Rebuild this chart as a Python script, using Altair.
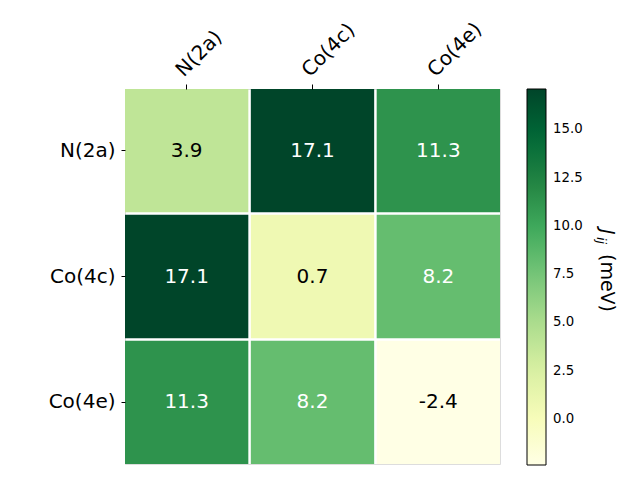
import altair as alt
import pandas as pd

rows = ["N(2a)", "Co(4c)", "Co(4e)"]
cols = ["N(2a)", "Co(4c)", "Co(4e)"]
values = [
    [3.9, 17.1, 11.3],
    [17.1, 0.7, 8.2],
    [11.3, 8.2, -2.4],
]
legend_ticks = [0.0, 2.5, 5.0, 7.5, 10.0, 12.5, 15.0]
ylgn = ["#ffffe5", "#f7fcb9", "#d9f0a3", "#addd8e", "#78c679",
        "#41ab5d", "#238443", "#006837", "#004529"]

records = []
for i, r in enumerate(rows):
    for j, c in enumerate(cols):
        records.append({"row": r, "col": c, "value": values[i][j],
                        "label": f"{values[i][j]:.1f}"})
df = pd.DataFrame(records)
vmin = min(min(v) for v in values)
vmax = max(max(v) for v in values)
n = len(ylgn)
color_domain = [vmin + (vmax - vmin) * k / (n - 1) for k in range(n)]

FONT = "DejaVu Sans"

x_enc = alt.X(
    "col:N", sort=cols, title=None,
    scale=alt.Scale(paddingInner=0.02, paddingOuter=0),
    axis=alt.Axis(orient="top", labelAngle=-45, labelFontSize=20, labelColor="black",
                  tickSize=5, tickColor="black", domain=False, labelPadding=4,
                  labelFont=FONT),
)
y_enc = alt.Y(
    "row:N", sort=rows, title=None,
    scale=alt.Scale(paddingInner=0.02, paddingOuter=0),
    axis=alt.Axis(labelFontSize=20, labelColor="black", tickSize=4, tickColor="black",
                  domain=False, labelPadding=6, labelFont=FONT),
)

base = alt.Chart(df)
rect = base.mark_rect().encode(
    x=x_enc, y=y_enc,
    color=alt.Color(
        "value:Q",
        scale=alt.Scale(domain=color_domain, range=ylgn, interpolate="rgb"),
        legend=alt.Legend(
            title=None, orient="right", offset=27, gradientLength=376,
            gradientThickness=19, gradientStrokeColor="black", gradientStrokeWidth=1,
            values=legend_ticks, format=".1f", labelFontSize=13.3, labelColor="black",
            labelOffset=7, labelOverlap=False, labelFont=FONT, direction="vertical",
        ),
    ),
)
text = base.mark_text(fontSize=20, font=FONT).encode(
    x=alt.X("col:N", sort=cols),
    y=alt.Y("row:N", sort=rows),
    text=alt.Text("label:N"),
    color=alt.condition(alt.datum.value > 6, alt.value("white"), alt.value("black")),
)

one = alt.Chart(pd.DataFrame({"a": [0]}))
t_j = one.mark_text(text="J", fontSize=19, font=FONT, fontStyle="italic", angle=90,
                    align="left", baseline="middle").encode(x=alt.value(482), y=alt.value(140))
t_ij = one.mark_text(text="ij", fontSize=13, font=FONT, fontStyle="italic", angle=90,
                     align="left", baseline="middle").encode(x=alt.value(476), y=alt.value(148))
t_unit = one.mark_text(text="(meV)", fontSize=19, font=FONT, angle=90,
                       align="left", baseline="middle").encode(x=alt.value(482), y=alt.value(165))

chart = alt.layer(rect, text, t_j, t_ij, t_unit).properties(
    width=375, height=375,
    autosize=alt.AutoSizeParams(type="none"),
    padding={"left": 117, "top": 81, "right": 132, "bottom": 8},
).configure_view(stroke=None).configure(font=FONT)

chart.save("out.html", embed_options={"renderer": "svg", "actions": False})
